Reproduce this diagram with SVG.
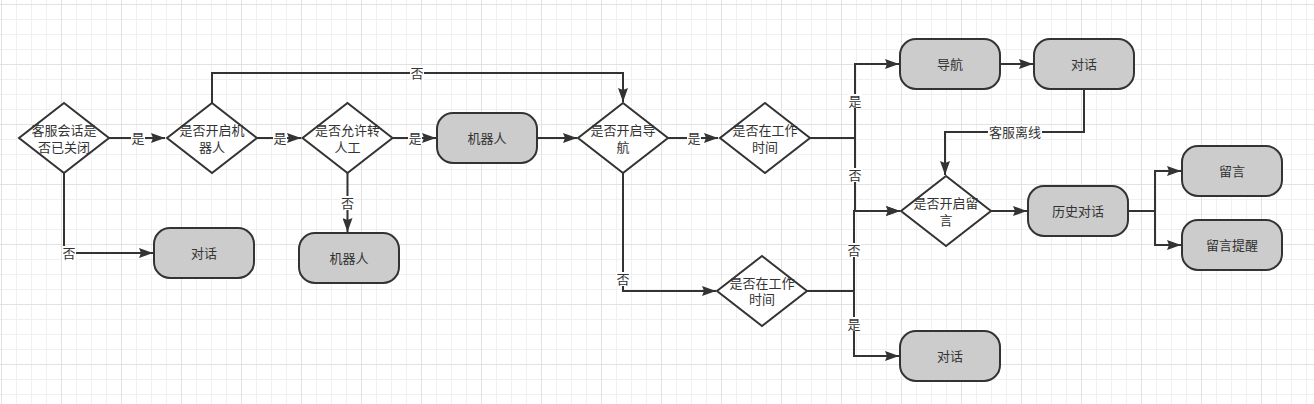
<svg xmlns="http://www.w3.org/2000/svg" width="1314" height="404" viewBox="0 0 1314 404">
<style>
.n{fill:#cccccc;stroke:#333333;stroke-width:2}
.d{fill:#ffffff;stroke:#333333;stroke-width:2}
.t{font-family:"Liberation Sans","Noto Sans CJK SC",sans-serif;font-size:13px;fill:#333333;text-anchor:middle}
.e{fill:none;stroke:#333333;stroke-width:2}
.lb{fill:#ffffff}
</style>
<defs>
<pattern id="grid" width="60" height="60" patternUnits="userSpaceOnUse" x="1" y="4">
<rect x="0" y="0" width="60" height="60" fill="#ffffff"/>
<rect x="15" y="0" width="1" height="60" fill="#f0f0f0"/>
<rect x="30" y="0" width="1" height="60" fill="#f0f0f0"/>
<rect x="45" y="0" width="1" height="60" fill="#f0f0f0"/>
<rect x="0" y="15" width="60" height="1" fill="#f0f0f0"/>
<rect x="0" y="30" width="60" height="1" fill="#f0f0f0"/>
<rect x="0" y="45" width="60" height="1" fill="#f0f0f0"/>
<rect x="0" y="0" width="1" height="60" fill="#e2e2e2"/>
<rect x="0" y="0" width="60" height="1" fill="#e2e2e2"/>
</pattern>
<marker id="arr" markerWidth="14" markerHeight="10" refX="14" refY="5" orient="auto" markerUnits="userSpaceOnUse">
<path d="M0,0 L14,5 L0,10 L2,5 z" fill="#333333"/>
</marker>
</defs>
<rect x="0" y="0" width="1314" height="404" fill="url(#grid)"/>

<g id="connectors">
<path class="e" d="M109,138 H165" marker-end="url(#arr)"/>
<path class="e" d="M64,173 V253 H153" marker-end="url(#arr)"/>
<path class="e" d="M257,138 H301" marker-end="url(#arr)"/>
<path class="e" d="M347.5,173 V232" marker-end="url(#arr)"/>
<path class="e" d="M393,138 H436" marker-end="url(#arr)"/>
<path class="e" d="M212,103 V73 H623 V102" marker-end="url(#arr)"/>
<path class="e" d="M537,138 H577" marker-end="url(#arr)"/>
<path class="e" d="M668,138 H718" marker-end="url(#arr)"/>
<path class="e" d="M623,173 V291 H716" marker-end="url(#arr)"/>
<path class="e" d="M810,138 H855 V64 H899" marker-end="url(#arr)"/>
<path class="e" d="M810,138 H855 V211 H900" marker-end="url(#arr)"/>
<path class="e" d="M807,291 H854 V211 H900" marker-end="url(#arr)"/>
<path class="e" d="M807,291 H854 V356 H899" marker-end="url(#arr)"/>
<path class="e" d="M1000,64 H1033" marker-end="url(#arr)"/>
<path class="e" d="M1084,89 V132 H945 V175" marker-end="url(#arr)"/>
<path class="e" d="M991,211 H1027" marker-end="url(#arr)"/>
<path class="e" d="M1128,211 H1155 V171 H1181" marker-end="url(#arr)"/>
<path class="e" d="M1128,211 H1155 V245 H1181" marker-end="url(#arr)"/>
<g id="edge-labels">
<rect class="lb" x="131" y="131" width="14" height="14"/><text class="t" x="138" y="143">是</text>
<rect class="lb" x="62" y="246" width="14" height="14"/><text class="t" x="69" y="258">否</text>
<rect class="lb" x="273" y="131" width="14" height="14"/><text class="t" x="280" y="143">是</text>
<rect class="lb" x="340.5" y="196" width="14" height="14"/><text class="t" x="347.5" y="208">否</text>
<rect class="lb" x="408" y="131" width="14" height="14"/><text class="t" x="415" y="143">是</text>
<rect class="lb" x="410" y="66" width="14" height="14"/><text class="t" x="417" y="78">否</text>
<rect class="lb" x="687" y="131" width="14" height="14"/><text class="t" x="694" y="143">是</text>
<rect class="lb" x="616" y="272" width="14" height="14"/><text class="t" x="623" y="284">否</text>
<rect class="lb" x="848" y="94" width="14" height="14"/><text class="t" x="855" y="106">是</text>
<rect class="lb" x="848" y="168" width="14" height="14"/><text class="t" x="855" y="180">否</text>
<rect class="lb" x="847" y="243" width="14" height="14"/><text class="t" x="854" y="255">否</text>
<rect class="lb" x="847" y="317" width="14" height="14"/><text class="t" x="854" y="329">是</text>
<rect class="lb" x="988" y="125" width="54" height="14"/><text class="t" x="1015" y="137">客服离线</text>
</g>
</g>

<g id="d1"><polygon class="d" points="64,103 109,138 64,173 19,138"/><text class="t" x="64" y="135">客服会话是</text><text class="t" x="64" y="152">否已关闭</text></g>
<g id="d2"><polygon class="d" points="212,103 257,138 212,173 167,138"/><text class="t" x="212" y="135">是否开启机</text><text class="t" x="212" y="152">器人</text></g>
<g id="d3"><polygon class="d" points="347.5,103 392.5,138 347.5,173 302.5,138"/><text class="t" x="347.5" y="135">是否允许转</text><text class="t" x="347.5" y="152">人工</text></g>
<g id="dialog1"><rect class="n" x="154" y="228" width="100" height="50" rx="16" ry="16"/><text class="t" x="204" y="258">对话</text></g>
<g id="robot2"><rect class="n" x="299" y="233" width="100" height="50" rx="16" ry="16"/><text class="t" x="349" y="263">机器人</text></g>
<g id="robot1"><rect class="n" x="437" y="113" width="100" height="50" rx="16" ry="16"/><text class="t" x="487" y="143">机器人</text></g>
<g id="d4"><polygon class="d" points="623,103 668,138 623,173 578,138"/><text class="t" x="623" y="135">是否开启导</text><text class="t" x="623" y="152">航</text></g>
<g id="d5"><polygon class="d" points="765,103 810,138 765,173 720,138"/><text class="t" x="765" y="135">是否在工作</text><text class="t" x="765" y="152">时间</text></g>
<g id="d6"><polygon class="d" points="762,256 807,291 762,326 717,291"/><text class="t" x="762" y="288">是否在工作</text><text class="t" x="762" y="304">时间</text></g>
<g id="nav"><rect class="n" x="900" y="39" width="100" height="50" rx="16" ry="16"/><text class="t" x="950" y="69">导航</text></g>
<g id="dialog2"><rect class="n" x="1034" y="39" width="100" height="50" rx="16" ry="16"/><text class="t" x="1084" y="69">对话</text></g>
<g id="d7"><polygon class="d" points="946,176 991,211 946,246 901,211"/><text class="t" x="946" y="208">是否开启留</text><text class="t" x="946" y="225">言</text></g>
<g id="history"><rect class="n" x="1028" y="186" width="100" height="50" rx="16" ry="16"/><text class="t" x="1078" y="216">历史对话</text></g>
<g id="msg"><rect class="n" x="1182" y="146" width="100" height="50" rx="16" ry="16"/><text class="t" x="1232" y="176">留言</text></g>
<g id="remind"><rect class="n" x="1182" y="220" width="100" height="50" rx="16" ry="16"/><text class="t" x="1232" y="250">留言提醒</text></g>
<g id="dialog3"><rect class="n" x="900" y="331" width="100" height="50" rx="16" ry="16"/><text class="t" x="950" y="361">对话</text></g>
</svg>
